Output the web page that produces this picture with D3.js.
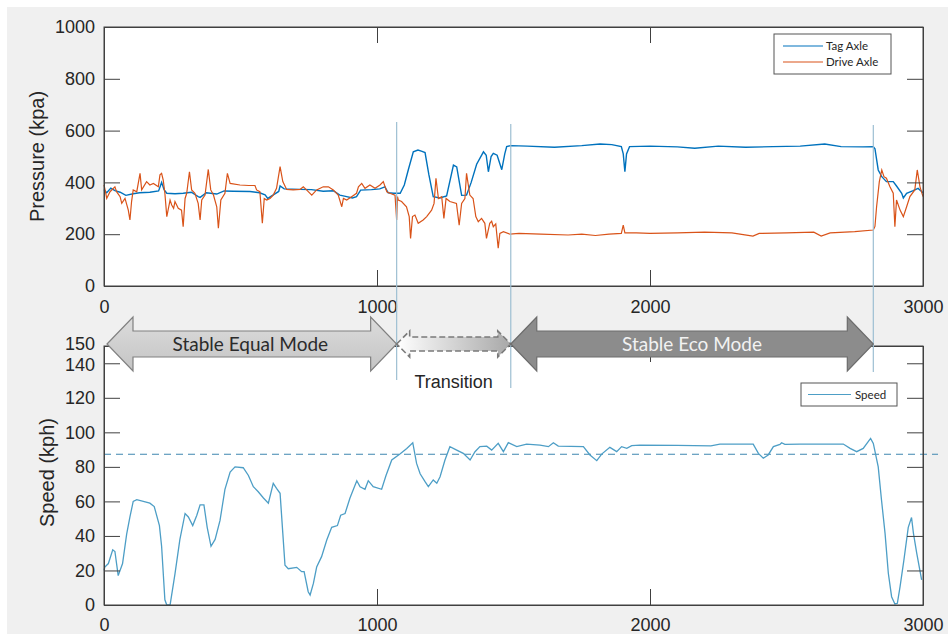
<!DOCTYPE html>
<html><head><meta charset="utf-8">
<script src="https://cdn.jsdelivr.net/npm/d3@7/dist/d3.min.js"></script>
<style>
body{margin:0;background:#fff;}
svg{display:block;}
</style>
</head><body>
<svg id="chart" width="948" height="634"></svg>
<script>
// ---------- DATA ----------
const xTicks = [0, 1000, 2000, 3000];
const pressureTicks = [0, 200, 400, 600, 800, 1000];
const speedTicks = [0, 20, 40, 60, 80, 100, 120, 140, 150];

const tagX = [0,10,25,40,59,80,107,130,168,200,211,220,230,260,290,320,345,352,375,413,440,474,535,570,590,600,620,640,645,660,718,760,803,840,864,889,910,925,940,980,1010,1029,1041,1060,1085,1100,1115,1133,1150,1165,1176,1190,1206,1230,1255,1280,1292,1310,1328,1345,1365,1390,1400,1408,1418,1426,1440,1457,1468,1475,1490,1550,1650,1750,1817,1860,1895,1902,1908,1914,1925,2000,2100,2164,2250,2350,2450,2550,2640,2700,2780,2818,2824,2836,2849,2866,2891,2903,2922,2928,2940,2964,2982,3000];
const tagP = [372,360,378,368,362,350,356,360,362,367,400,372,358,356,358,362,345,342,360,355,367,366,365,360,352,338,352,365,386,375,373,372,366,368,351,345,340,345,370,372,375,383,360,358,358,390,450,518,525,520,515,430,345,340,348,467,460,350,351,400,470,518,505,441,500,512,505,449,510,538,542,540,536,542,548,546,538,510,441,510,538,540,537,532,540,536,538,540,548,538,537,538,530,448,422,403,403,386,358,340,358,368,377,360];

const driveX = [0,4,10,22,40,46,59,65,77,89,95,101,107,120,132,138,156,168,181,199,205,211,217,223,230,242,248,255,260,272,284,290,297,303,313,321,333,345,352,358,370,382,391,401,413,419,428,443,452,462,498,530,553,559,571,580,587,596,608,620,632,645,655,669,693,718,730,742,761,779,803,822,840,858,871,877,889,907,925,932,944,956,974,993,1011,1023,1036,1047,1066,1072,1075,1078,1090,1108,1118,1123,1130,1139,1151,1169,1182,1200,1209,1216,1225,1237,1245,1253,1267,1291,1301,1310,1322,1328,1340,1352,1362,1371,1383,1395,1401,1413,1420,1426,1435,1444,1450,1463,1487,1520,1600,1700,1750,1800,1850,1895,1902,1908,1950,2000,2100,2200,2300,2377,2400,2500,2600,2627,2660,2750,2818,2824,2830,2840,2849,2857,2866,2879,2891,2897,2903,2916,2928,2940,2952,2970,2979,2989,3000];
const driveP = [390,371,338,364,383,364,345,319,338,293,255,326,371,364,435,371,403,390,396,383,429,435,409,358,268,332,313,300,326,300,293,229,338,358,441,371,358,319,255,332,351,450,371,351,306,223,332,358,435,396,390,388,388,371,364,242,338,332,338,351,377,461,403,373,371,373,383,371,351,371,383,383,371,351,306,338,332,345,358,383,396,377,390,377,390,403,364,358,351,255,345,332,326,306,268,184,268,274,242,255,268,293,319,416,338,345,261,338,326,319,235,319,338,435,351,338,268,248,261,242,184,242,250,229,240,146,203,210,200,203,200,197,200,195,200,203,235,205,205,203,205,208,205,193,203,205,208,193,205,210,216,230,306,403,448,422,416,383,358,229,332,293,268,306,345,371,448,383,345];

const speedX = [0,3,16,32,40,52,68,83,95,107,120,168,184,203,211,223,230,242,260,278,297,309,325,340,352,366,378,392,407,425,443,462,480,510,529,547,565,584,602,620,632,645,655,663,675,706,724,733,748,755,767,779,797,816,834,855,867,883,901,926,938,956,968,986,1017,1033,1054,1084,1109,1131,1145,1158,1176,1188,1206,1219,1231,1249,1267,1292,1316,1341,1359,1377,1402,1420,1444,1463,1481,1512,1548,1597,1628,1646,1664,1756,1780,1805,1823,1853,1878,1896,1915,1933,1963,2100,2223,2256,2378,2397,2415,2433,2452,2476,2482,2494,2549,2708,2733,2757,2781,2808,2818,2836,2848,2861,2873,2885,2897,2906,2916,2930,2946,2958,2965,2977,2995];
const speedV = [20,22,24,32,31,17,24,41,51,60,61,59,57,46,34,3,0,0,18,38,53,51,46,52,58,58,45,34,38,49,67,77,80,79.5,75,68.5,65.6,62,59,70.5,67.6,64.7,41.5,23,21,21.8,19.3,19.3,7.7,5.8,12.5,22,28,37.6,45,46,52,53,62,72,68.5,67,72,68.5,67,75,84,87.5,90.7,94,82,76,71.4,68.5,72.4,70.5,74.3,84,91.7,89.7,87.8,84,88.8,91.7,92,89.7,93.6,88.8,94,91.7,93.2,92.6,91.7,94,92,91.7,86.9,83.6,87.4,91.3,88.8,91.7,90.7,92.3,92.6,92.4,92.2,93.2,93.2,87.8,85,86.9,91.7,93,94,93,93.2,93.2,90.7,88.8,90.7,96.5,93.6,80,60.8,41.5,18.4,4.8,0.6,1,10.6,26,45,50.7,41.5,30,14.5];

const speedRef = 87.3;              // dashed reference speed
const modeBounds = [0, 1072, 1490, 2818];
const modeLabels = ["Stable Equal Mode", "Transition", "Stable Eco Mode"];
const pressureLegend = ["Tag Axle", "Drive Axle"];
const speedLegend = ["Speed"];

// ---------- LAYOUT ----------
const svg = d3.select("#chart");
const L = 104, R = 923;
const top1 = 27, bot1 = 286, top2 = 346, bot2 = 605;
const TAG = "#0072BD", DRIVE = "#D95319", SPEED = "#4d9ec6", VLINE = "#9dbfd2";
const AX = "#404040";
const tickFont = "'Liberation Sans', Arial, sans-serif";
const calFont = "Lato, 'Open Sans', sans-serif";
const fmt = d3.format("d");

const x = d3.scaleLinear().domain([0, 3000]).range([L, R]);
const yP = d3.scaleLinear().domain([0, 1000]).range([bot1, top1]);
const yS = d3.scaleLinear().domain([0, 150]).range([bot2, top2]);

// background
svg.append("rect").attr("x", 7).attr("y", 7).attr("width", 948).attr("height", 634).attr("fill", "#f0f0f0");
svg.append("rect").attr("x", L).attr("y", top1).attr("width", R - L).attr("height", bot1 - top1).attr("fill", "#fff");
svg.append("rect").attr("x", L).attr("y", top2).attr("width", R - L).attr("height", bot2 - top2).attr("fill", "#fff");

// ---------- lines ----------
const lineP = d3.line().x(d => x(d[0])).y(d => yP(d[1]));
const lineS = d3.line().x(d => x(d[0])).y(d => yS(d[1]));
const tagData = tagX.map((v, i) => [v, tagP[i]]);
const driveData = driveX.map((v, i) => [v, driveP[i]]);
const speedData = speedX.map((v, i) => [v, speedV[i]]);

svg.append("path").datum(tagData).attr("d", lineP).attr("fill", "none").attr("stroke", TAG).attr("stroke-width", 1.4);
svg.append("path").datum(driveData).attr("d", lineP).attr("fill", "none").attr("stroke", DRIVE).attr("stroke-width", 1.2);

svg.append("line").attr("x1", L).attr("x2", 938).attr("y1", yS(speedRef)).attr("y2", yS(speedRef))
  .attr("stroke", "#3f86b0").attr("stroke-width", 1.2).attr("stroke-dasharray", "7,5");
svg.append("path").datum(speedData).attr("d", lineS).attr("fill", "none").attr("stroke", SPEED).attr("stroke-width", 1.3);

// ---------- axes ----------
function drawAxes(yScale, yTicks, top, bot, xPad) {
  const g = svg.append("g");
  const gl = g.append("g").attr("transform", `translate(${L},0)`)
    .call(d3.axisLeft(yScale).tickValues(yTicks).tickFormat(fmt).tickSize(-16).tickSizeOuter(0).tickPadding(9));
  g.append("g").attr("transform", `translate(${R},0)`)
    .call(d3.axisRight(yScale).tickValues(yTicks).tickSize(-16).tickSizeOuter(0).tickFormat(""));
  g.append("g").attr("transform", `translate(0,${bot})`)
    .call(d3.axisBottom(x).tickValues(xTicks).tickFormat(fmt).tickSize(-16).tickSizeOuter(0).tickPadding(xPad));
  g.append("g").attr("transform", `translate(0,${top})`)
    .call(d3.axisTop(x).tickValues(xTicks).tickSize(-16).tickSizeOuter(0).tickFormat(""));
  g.selectAll(".domain").attr("stroke", AX).attr("stroke-width", 1);
  g.selectAll(".tick line").attr("stroke", AX);
  g.selectAll("text").attr("font-family", tickFont).attr("font-size", 18).attr("fill", "#262626");
  g.append("rect").attr("x", L).attr("y", top).attr("width", R - L).attr("height", bot - top)
    .attr("fill", "none").attr("stroke", AX);
  return gl;
}
drawAxes(yP, pressureTicks, top1, bot1, 14);
const gs = drawAxes(yS, speedTicks, top2, bot2, 13);
// the 150 / 140 labels sit very close together, as in the original
gs.selectAll(".tick text").filter(d => d === 150).attr("dy", "0.22em");
gs.selectAll(".tick text").filter(d => d === 140).attr("dy", "0.42em");

svg.append("text").attr("transform", `translate(44,${(top1 + bot1) / 2}) rotate(-90)`)
  .attr("text-anchor", "middle").attr("font-family", tickFont).attr("font-size", 20).attr("fill", "#262626")
  .text("Pressure (kpa)");
svg.append("text").attr("transform", `translate(54,${(top2 + bot2) / 2 - 3}) rotate(-90)`)
  .attr("text-anchor", "middle").attr("font-family", tickFont).attr("font-size", 20).attr("fill", "#262626")
  .text("Speed (kph)");

// ---------- mode boundary lines ----------
const vTops = [122, 124, 125], vBots = [380, 388, 372];
modeBounds.slice(1).forEach((b, i) => {
  svg.append("line").attr("x1", x(b)).attr("x2", x(b)).attr("y1", vTops[i]).attr("y2", vBots[i])
    .attr("stroke", VLINE).attr("stroke-width", 1.2);
});

// ---------- arrows ----------
const defs = svg.append("defs");
const gEq = defs.append("linearGradient").attr("id", "gEq").attr("x1", 0).attr("x2", 0).attr("y1", 0).attr("y2", 1);
gEq.append("stop").attr("offset", "0%").attr("stop-color", "#dcdcdc");
gEq.append("stop").attr("offset", "100%").attr("stop-color", "#c4c4c4");
const gTr = defs.append("linearGradient").attr("id", "gTr").attr("x1", 0).attr("x2", 1).attr("y1", 0).attr("y2", 0);
gTr.append("stop").attr("offset", "0%").attr("stop-color", "#ffffff");
gTr.append("stop").attr("offset", "100%").attr("stop-color", "#a8a8a8");

function dblArrow(x0, x1, cy, headLen, headH, shaftH) {
  return `M${x0},${cy} L${x0 + headLen},${cy - headH} L${x0 + headLen},${cy - shaftH} ` +
    `L${x1 - headLen},${cy - shaftH} L${x1 - headLen},${cy - headH} L${x1},${cy} ` +
    `L${x1 - headLen},${cy + headH} L${x1 - headLen},${cy + shaftH} L${x0 + headLen},${cy + shaftH} ` +
    `L${x0 + headLen},${cy + headH} Z`;
}
const acy = 344;
svg.append("path").attr("d", dblArrow(x(modeBounds[0]) + 3, x(modeBounds[1]), acy, 26, 27, 13))
  .attr("fill", "url(#gEq)").attr("stroke", "#808080").attr("stroke-width", 1.2);
svg.append("path").attr("d", dblArrow(x(modeBounds[1]), x(modeBounds[2]), acy, 13, 13, 7))
  .attr("fill", "url(#gTr)").attr("stroke", "#7a7a7a").attr("stroke-width", 1.6).attr("stroke-dasharray", "6,3");
svg.append("path").attr("d", dblArrow(x(modeBounds[2]), x(modeBounds[3]), acy, 26, 27, 13))
  .attr("fill", "#8c8c8c").attr("stroke", "#6c6c6c").attr("stroke-width", 1.2);

svg.append("text").attr("x", (x(modeBounds[0]) + x(modeBounds[1])) / 2).attr("y", acy + 7)
  .attr("text-anchor", "middle").attr("font-family", calFont).attr("font-size", 19).attr("fill", "#2b2b2b")
  .text(modeLabels[0]);
svg.append("text").attr("x", (x(modeBounds[1]) + x(modeBounds[2])) / 2).attr("y", 388)
  .attr("text-anchor", "middle").attr("font-family", tickFont).attr("font-size", 18).attr("fill", "#262626")
  .text(modeLabels[1]);
svg.append("text").attr("x", (x(modeBounds[2]) + x(modeBounds[3])) / 2).attr("y", acy + 7)
  .attr("text-anchor", "middle").attr("font-family", calFont).attr("font-size", 19).attr("fill", "#f2f2f2")
  .text(modeLabels[2]);

// ---------- legends ----------
const lg1 = svg.append("g");
lg1.append("rect").attr("x", 774).attr("y", 34).attr("width", 117).attr("height", 40)
  .attr("fill", "#fff").attr("stroke", "#555");
[TAG, DRIVE].forEach((c, i) => {
  const yy = 46 + i * 16;
  lg1.append("line").attr("x1", 783).attr("x2", 823).attr("y1", yy).attr("y2", yy).attr("stroke", c).attr("stroke-width", 1.2);
  lg1.append("text").attr("x", 826).attr("y", yy + 4).attr("font-family", calFont).attr("font-size", 11.5)
    .attr("fill", "#262626").text(pressureLegend[i]);
});
const lg2 = svg.append("g");
lg2.append("rect").attr("x", 801).attr("y", 383).attr("width", 96).attr("height", 23)
  .attr("fill", "#fff").attr("stroke", "#555");
lg2.append("line").attr("x1", 808).attr("x2", 851).attr("y1", 394.5).attr("y2", 394.5).attr("stroke", SPEED).attr("stroke-width", 1.2);
lg2.append("text").attr("x", 855).attr("y", 398.5).attr("font-family", calFont).attr("font-size", 11.5)
  .attr("fill", "#262626").text(speedLegend[0]);
</script>
</body></html>
